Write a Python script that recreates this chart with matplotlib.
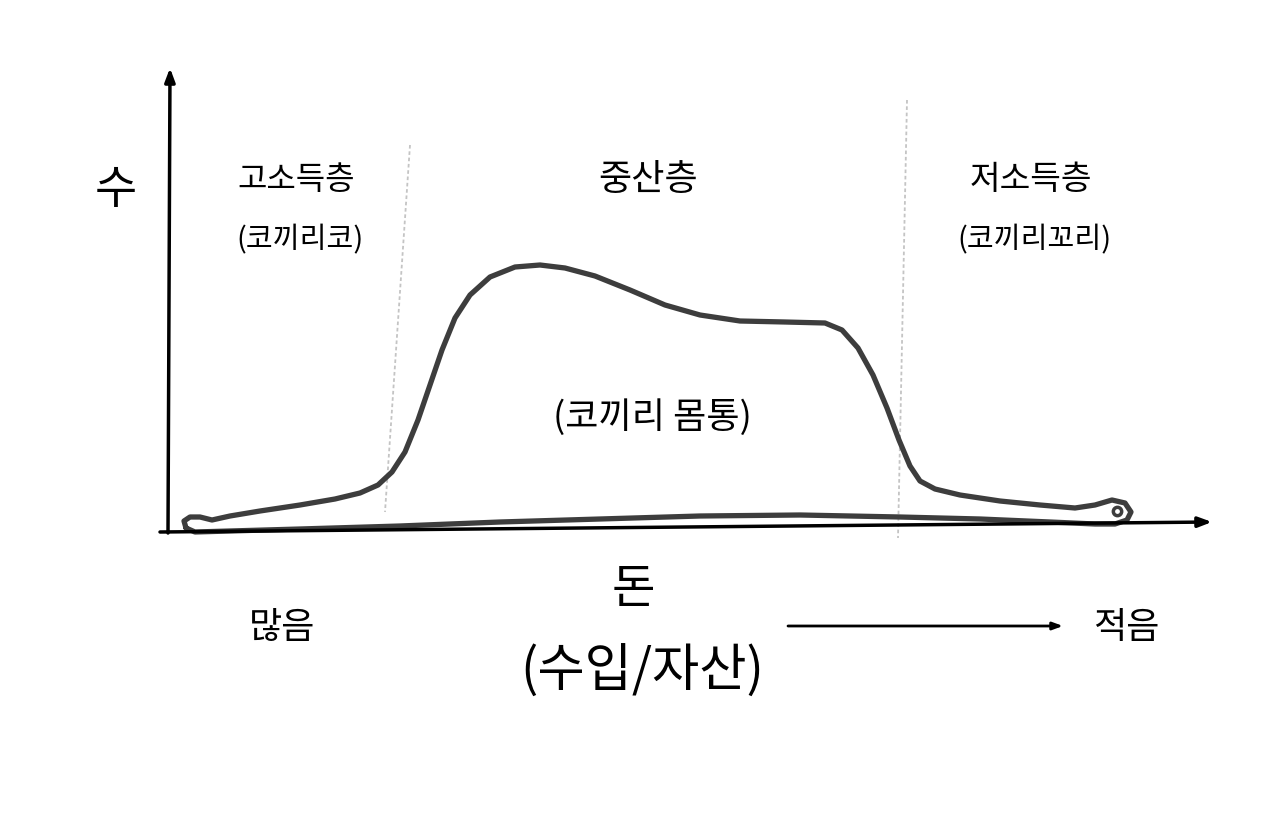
import matplotlib
matplotlib.use("Agg")
import matplotlib.pyplot as plt

plt.rcParams['font.family'] = ['Noto Sans CJK KR', 'DejaVu Sans']

# Distribution curve (money on x, count on y) (pixel-like units)
curve_x = [186, 184, 190, 200, 212, 230, 260, 300, 335, 360, 378, 392, 405, 418, 430,
           442, 455, 470, 490, 515, 540, 565, 595, 630, 665, 700, 740, 785, 825, 842,
           858, 873, 887, 899, 910, 920, 935, 960, 1000, 1040, 1075, 1095, 1112, 1125,
           1131, 1127, 1115, 1095, 1050, 980, 900, 800, 700, 600, 500, 400, 300, 230,
           195, 186]
curve_y = [528, 521, 517, 517, 520, 516, 511, 505, 499, 493, 485, 472, 452, 420, 385,
           350, 318, 295, 277, 267, 265, 268, 276, 290, 305, 315, 321, 322, 323, 330,
           348, 375, 408, 440, 466, 481, 489, 495, 501, 505, 508, 505, 500, 503,
           512, 520, 524, 524, 522, 519, 517, 515, 516, 519, 522, 526, 529, 531,
           532, 528]

# Axes lines
yaxis_x = [168, 170]
yaxis_y = [533, 68]
xaxis_x = [160, 1212]
xaxis_y = [532, 522]

# Class dividers
div1_x = [410, 385]
div1_y = [145, 512]
div2_x = [907, 898]
div2_y = [100, 538]

segment_labels = ['고소득층', '중산층', '저소득층']
segment_subs = ['(코끼리코)', '(코끼리 몸통)', '(코끼리꼬리)']

fig = plt.figure(figsize=(12.8, 8.38), dpi=100)
ax = fig.add_axes([0, 0, 1, 1])
ax.set_xlim(0, 1280)
ax.set_ylim(838, 0)
ax.axis('off')

# dividers
ax.plot(div1_x, div1_y, color='#c4c4c4', lw=1.3, ls=(0, (2, 1.5)))
ax.plot(div2_x, div2_y, color='#c4c4c4', lw=1.3, ls=(0, (2, 1.5)))

# axes with arrows
ax.annotate('', xy=(yaxis_x[1], yaxis_y[1]), xytext=(yaxis_x[0], yaxis_y[0]),
            arrowprops=dict(arrowstyle='-|>,head_length=0.8,head_width=0.3',
                            color='black', lw=2.5, shrinkA=0, shrinkB=0))
ax.annotate('', xy=(xaxis_x[1], xaxis_y[1]), xytext=(xaxis_x[0], xaxis_y[0]),
            arrowprops=dict(arrowstyle='-|>,head_length=0.8,head_width=0.3',
                            color='black', lw=2.5, shrinkA=0, shrinkB=0))

# curve
ax.plot(curve_x, curve_y, color='#3d3d3d', lw=3.8, solid_joinstyle='round',
        solid_capstyle='round')
# small loop dot at right end
ax.plot([1117], [511], marker='o', ms=6, mfc='none', mec='#3d3d3d', mew=2.5)

# texts
kw = dict(ha='center', va='center', fontweight='medium')
ax.text(116, 190, '수', fontsize=33, **kw)
ax.text(296, 180, segment_labels[0], fontsize=23, **kw)
ax.text(648, 180, segment_labels[1], fontsize=26, **kw)
ax.text(1031, 180, segment_labels[2], fontsize=24, **kw)
ax.text(300, 240, segment_subs[0], fontsize=21, **kw)
ax.text(1034, 240, segment_subs[2], fontsize=21, **kw)
ax.text(652, 418, segment_subs[1], fontsize=26, **kw)

ax.text(633, 590, '돈', fontsize=34, **kw)
ax.text(642, 672, '(수입/자산)', fontsize=37, **kw)
ax.text(282, 628, '많음', fontsize=26, **kw)
ax.text(1126, 628, '적음', fontsize=26, **kw)

ax.annotate('', xy=(1063, 626), xytext=(788, 626),
            arrowprops=dict(arrowstyle='-|>,head_length=0.6,head_width=0.22',
                            color='black', lw=2, shrinkA=0, shrinkB=0))

fig.savefig('out.png', dpi=100, facecolor='white')
